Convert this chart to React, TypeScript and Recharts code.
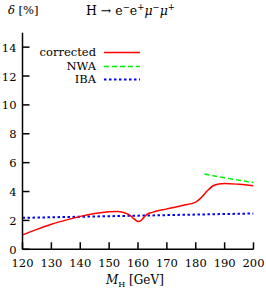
import React from "react";
import { LineChart, Line, XAxis, YAxis } from "recharts";

const correctedX = [120, 125, 130, 135, 140, 145, 150, 153, 155, 157, 159, 160, 161, 162, 163, 165, 170, 175, 180, 182, 184, 186, 188, 190, 195, 200];
const correctedY = [1.0, 1.38, 1.73, 2.02, 2.28, 2.48, 2.6, 2.62, 2.55, 2.38, 2.05, 1.92, 1.98, 2.2, 2.4, 2.56, 2.8, 3.02, 3.27, 3.6, 4.05, 4.4, 4.53, 4.56, 4.5, 4.4];
const nwaX = [183, 190, 200];
const nwaY = [5.21, 4.95, 4.63];
const ibaX = [120, 160, 200];
const ibaY = [2.18, 2.33, 2.48];

const xTicks = [120, 130, 140, 150, 160, 170, 180, 190, 200];
const yTicks = [0, 2, 4, 6, 8, 10, 12, 14];

const toPts = (xs: number[], ys: number[]) => xs.map((x, i) => ({ x, y: ys[i] }));
const corrected = toPts(correctedX, correctedY);
const nwa = toPts(nwaX, nwaY);
const iba = toPts(ibaX, ibaY);

const FONT = "'DejaVu Serif', 'Liberation Serif', serif";
const FS = 11.5;
const TL = 7;

const BottomTick = (p: any) => (
  <g>
    <line x1={p.x} x2={p.x} y1={p.y} y2={p.y - TL} stroke="#000" strokeWidth={1.5} />
    <text x={p.x} y={p.y + 18} textAnchor="middle" fontFamily={FONT} fontSize={FS} fill="#000">{p.payload.value}</text>
  </g>
);
const TopTick = (p: any) => (
  <line x1={p.x} x2={p.x} y1={p.y} y2={p.y + TL} stroke="#000" strokeWidth={1.5} />
);
const LeftTick = (p: any) => (
  <g>
    <line x1={p.x} x2={p.x + TL} y1={p.y} y2={p.y} stroke="#000" strokeWidth={1.5} />
    <text x={p.x - 6} y={p.y + 4.5} textAnchor="end" fontFamily={FONT} fontSize={FS} fill="#000">{p.payload.value}</text>
  </g>
);
const RightTick = (p: any) => (
  <line x1={p.x} x2={p.x - TL} y1={p.y} y2={p.y} stroke="#000" strokeWidth={1.5} />
);

const legendItems = [
  { label: "corrected", color: "#ff0000", dash: undefined as string | undefined, w: 1.5 },
  { label: "NWA", color: "#00ee00", dash: "5 3", w: 1.5 },
  { label: "IBA", color: "#0000ff", dash: "2.5 2.5", w: 2 },
];

export default function App() {
  const axisLine = { stroke: "#000", strokeWidth: 1.5 };
  return (
    <div style={{ position: "absolute", left: 0, top: 0, width: 266, height: 293, background: "#fff", fontFamily: FONT }}>
      <LineChart width={266} height={293} margin={{ top: 32.7, right: 12.5, left: 0, bottom: 0 }}>
        <XAxis xAxisId="b" type="number" dataKey="x" domain={[120, 200]} ticks={xTicks} interval={0} height={43.7}
          axisLine={axisLine} tickLine={false} tickSize={0} tickMargin={0} tick={<BottomTick />} allowDataOverflow />
        <XAxis xAxisId="t" orientation="top" type="number" dataKey="x" domain={[120, 200]} ticks={xTicks} interval={0} height={0}
          axisLine={axisLine} tickLine={false} tickSize={0} tickMargin={0} tick={<TopTick />} allowDataOverflow />
        <YAxis yAxisId="l" type="number" domain={[0, 15]} ticks={yTicks} interval={0} width={22.5}
          axisLine={axisLine} tickLine={false} tickSize={0} tickMargin={0} tick={<LeftTick />} allowDataOverflow />
        <YAxis yAxisId="r" orientation="right" type="number" domain={[0, 15]} ticks={yTicks} interval={0} width={0}
          axisLine={axisLine} tickLine={false} tickSize={0} tickMargin={0} tick={<RightTick />} allowDataOverflow />
        <Line xAxisId="b" yAxisId="l" data={iba} dataKey="y" stroke="#0000ff" strokeWidth={2} strokeDasharray="2.5 2.5" dot={false} isAnimationActive={false} type="linear" />
        <Line xAxisId="b" yAxisId="l" data={nwa} dataKey="y" stroke="#00ee00" strokeWidth={1.5} strokeDasharray="5 3" dot={false} isAnimationActive={false} type="linear" />
        <Line xAxisId="b" yAxisId="l" data={corrected} dataKey="y" stroke="#ff0000" strokeWidth={1.5} dot={false} isAnimationActive={false} type="monotone" />
      </LineChart>
      <div style={{ position: "absolute", left: 8, top: 3, fontSize: FS, whiteSpace: "nowrap" }}>
        <i>δ</i> [%]
      </div>
      <div style={{ position: "absolute", left: 86, top: 2, fontSize: 12.5, whiteSpace: "nowrap" }}>
        H → e<sup style={{ fontSize: 8.5 }}>−</sup>e<sup style={{ fontSize: 8.5 }}>+</sup><i>μ</i><sup style={{ fontSize: 8.5 }}>−</sup><i>μ</i><sup style={{ fontSize: 8.5 }}>+</sup>
      </div>
      <div style={{ position: "absolute", left: 106, top: 273, fontSize: 12, whiteSpace: "nowrap" }}>
        <i>M</i><sub style={{ fontSize: 8 }}>H</sub> [GeV]
      </div>
      <div style={{ position: "absolute", left: 0, top: 46 }}>
        {legendItems.map((it) => (
          <div key={it.label} style={{ display: "flex", alignItems: "center", height: 13.4, overflow: "hidden" }}>
            <span style={{ width: 96, textAlign: "right", fontSize: FS, lineHeight: "13px" }}>{it.label}</span>
            <svg width={44} height={13} style={{ display: "block" }}>
              <line x1={8} x2={44} y1={6.5} y2={6.5} stroke={it.color} strokeWidth={it.w} strokeDasharray={it.dash} />
            </svg>
          </div>
        ))}
      </div>
    </div>
  );
}
